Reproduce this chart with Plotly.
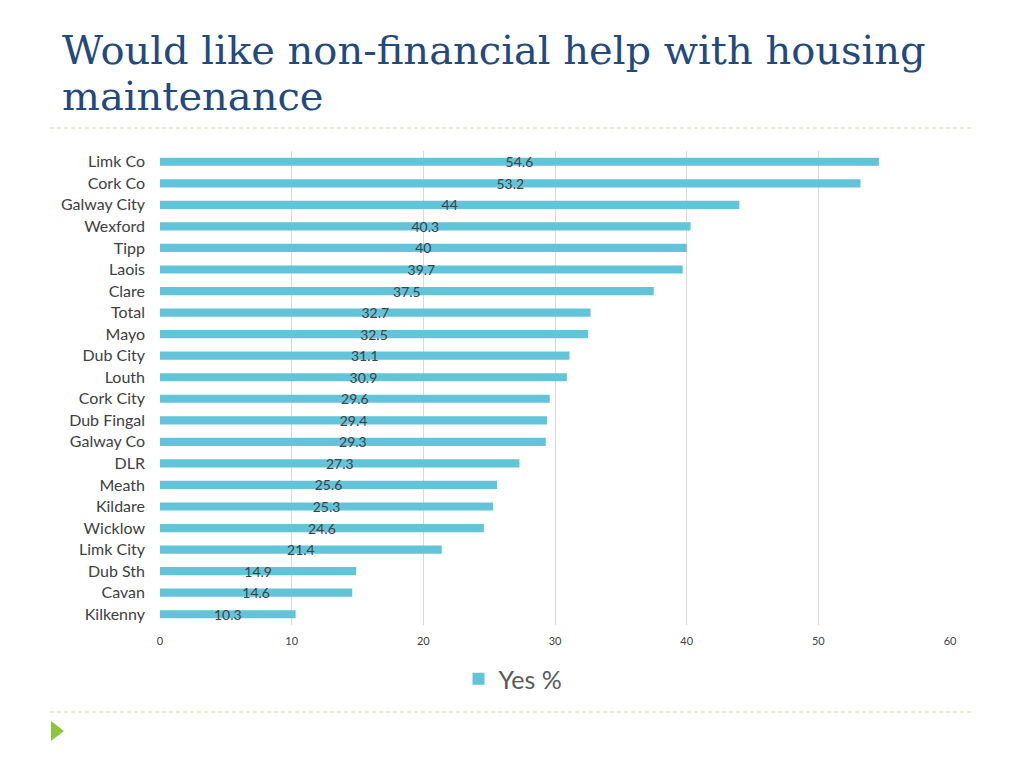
import plotly.graph_objects as go

categories = ["Limk Co", "Cork Co", "Galway City", "Wexford", "Tipp", "Laois", "Clare",
              "Total", "Mayo", "Dub City", "Louth", "Cork City", "Dub Fingal", "Galway Co",
              "DLR", "Meath", "Kildare", "Wicklow", "Limk City", "Dub Sth", "Cavan", "Kilkenny"]
values = [54.6, 53.2, 44, 40.3, 40, 39.7, 37.5, 32.7, 32.5, 31.1, 30.9, 29.6, 29.4, 29.3,
          27.3, 25.6, 25.3, 24.6, 21.4, 14.9, 14.6, 10.3]
series_name = "Yes %"
x_ticks = [0, 10, 20, 30, 40, 50, 60]
title_lines = ["Would like non-financial help with housing", "maintenance"]

W, H = 1024, 768
L, R, T, B = 160, 950, 151, 625

def px(x):
    return (x - L) / (R - L)

def py(y):
    return (B - y) / (B - T)

label_font = "Gill Sans, Lato, Noto Sans, sans-serif"

fig = go.Figure()
fig.add_trace(go.Bar(
    y=categories, x=values, orientation="h", name=series_name,
    marker=dict(color="#62c4d9", line=dict(width=0)),
    text=[str(v) for v in values], textposition="inside", insidetextanchor="middle",
    textangle=0, constraintext="none",
    textfont=dict(family=label_font, size=14, color="#404040"),
    cliponaxis=False,
))

fig.update_layout(
    width=W, height=H,
    margin=dict(l=L, r=W - R, t=T, b=H - B),
    paper_bgcolor="white", plot_bgcolor="white",
    bargap=0.62,
    showlegend=True,
    legend=dict(orientation="h", x=px(513), xanchor="center", y=py(679), yanchor="middle",
                font=dict(family=label_font, size=25, color="#595959"),
                itemwidth=30),
    xaxis=dict(range=[0, 60], tickvals=x_ticks, showgrid=True, gridcolor="#d9d9d9",
               gridwidth=1, zeroline=False, showline=False,
               tickfont=dict(family=label_font, size=11, color="#404040"),
               ticklabelstandoff=8, fixedrange=True),
    yaxis=dict(autorange="reversed", showgrid=False, zeroline=False, showline=False,
               tickfont=dict(family=label_font, size=16, color="#404040"),
               ticklabelstandoff=14, fixedrange=True),
)

# title
fig.add_annotation(text=title_lines[0], xref="paper", yref="paper", x=px(60), y=py(50),
                   xanchor="left", yanchor="middle", showarrow=False,
                   font=dict(family="DejaVu Serif, serif", size=40, color="#24497c"))
fig.add_annotation(text=title_lines[1], xref="paper", yref="paper", x=px(60), y=py(96),
                   xanchor="left", yanchor="middle", showarrow=False,
                   font=dict(family="DejaVu Serif, serif", size=40, color="#24497c"))

# dashed separators
for yy in (128, 712):
    fig.add_shape(type="line", xref="paper", yref="paper", x0=px(50), x1=px(972),
                  y0=py(yy), y1=py(yy), line=dict(color="#d3dca3", width=1.2, dash="4px,3px"))

# triangle bullet
fig.add_shape(type="path", xref="paper", yref="paper",
              path=f"M {px(51)},{py(721)} L {px(64)},{py(731)} L {px(51)},{py(741)} Z",
              fillcolor="#8cc63f", line=dict(width=0))

fig.write_html("out.html", config={"displayModeBar": False},
               post_script="document.body.style.margin='0';")
